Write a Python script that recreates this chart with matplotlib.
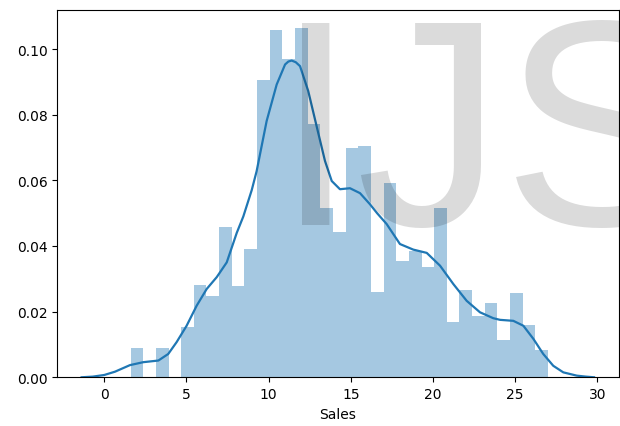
import numpy as np
import matplotlib
matplotlib.use("Agg")
import matplotlib.pyplot as plt

# histogram of Sales: 33 equal bins between min and max, density heights
bin_lo = 1.6
bin_hi = 27.0
n_bins = 33
bar_heights = [0.0088, 0.0, 0.0088, 0.0, 0.0154, 0.0282, 0.0249, 0.0457, 0.0279, 0.0390,
               0.0905, 0.1057, 0.0970, 0.1063, 0.0771, 0.0515, 0.0443, 0.0699, 0.0704, 0.0259,
               0.0591, 0.0355, 0.0386, 0.0335, 0.0515, 0.0169, 0.0267, 0.0188, 0.0226, 0.0114,
               0.0257, 0.0160, 0.0083]

# kde curve, read point by point
kde_x = [-1.38, -0.7, 0.0, 0.65, 1.56, 2.37, 3.29, 3.89, 4.40, 5.01, 5.62, 6.23, 6.84,
         7.45, 8.06, 8.46, 8.97, 9.27, 9.88, 10.49, 11.0, 11.2, 11.4, 11.65, 11.91, 12.41,
         12.92, 13.43, 13.84, 14.34, 14.95, 15.56, 16.17, 16.6, 17.18, 17.99, 18.80, 19.62,
         20.43, 21.24, 22.05, 22.86, 23.67, 24.08, 24.89, 25.50, 26.11, 26.71, 27.32, 27.93,
         28.75, 29.3, 29.8]
kde_y = [0.0, 0.0002, 0.0007, 0.0017, 0.0037, 0.0046, 0.0051, 0.0071, 0.0107, 0.0157, 0.0218,
         0.0269, 0.0305, 0.0350, 0.0440, 0.0490, 0.0570, 0.0628, 0.0781, 0.0892, 0.0953,
         0.0962, 0.0965, 0.0960, 0.0948, 0.0872, 0.0765, 0.0659, 0.0598, 0.0573, 0.0576,
         0.0561, 0.0527, 0.0500, 0.0467, 0.0406, 0.0389, 0.0379, 0.0340, 0.0284, 0.0233,
         0.0198, 0.0180, 0.0175, 0.0172, 0.0157, 0.0117, 0.0071, 0.0035, 0.0015, 0.0005,
         0.0002, 0.0]

edges = np.linspace(bin_lo, bin_hi, n_bins + 1)

fig = plt.figure(figsize=(6.2, 4.27), dpi=100)
ax = fig.add_axes([0.0924, 0.1141, 0.9052, 0.8601])

ax.bar(edges[:-1], bar_heights, width=np.diff(edges), align='edge',
       color='#1f77b4', alpha=0.4, linewidth=0)
ax.plot(kde_x, kde_y, color='#1f77b4', linewidth=1.6)

ax.set_xlim(-2.86, 31.29)
ax.set_ylim(0, 0.1119)
ax.set_xticks([0, 5, 10, 15, 20, 25, 30])
ax.set_yticks([0.0, 0.02, 0.04, 0.06, 0.08, 0.10])
ax.set_xlabel("Sales")

# watermark over the plot
fig.text(275.5 / 620, 202 / 427, "IJS", fontsize=211, family="Liberation Sans",
         color='black', alpha=0.14, ha='left', va='baseline', zorder=10)

plt.savefig('out.png', dpi=100)
plt.close()
